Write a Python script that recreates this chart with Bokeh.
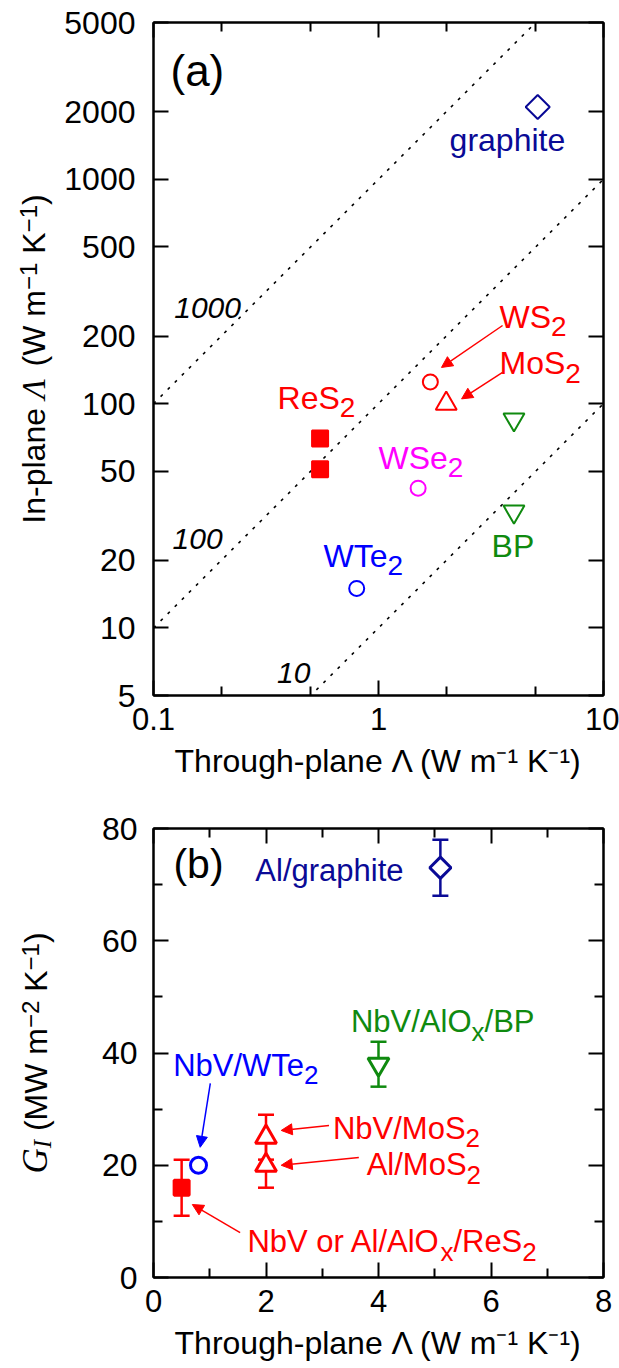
import math
from bokeh.plotting import figure
from bokeh.models import (LogAxis, LinearAxis, FixedTicker, Label, Arrow, NormalHead,
                          TeeHead, Whisker, ColumnDataSource, CustomJSTickFormatter, Range1d)
from bokeh.layouts import column, row
from bokeh.embed import file_html
from bokeh.resources import INLINE

SANS = "Liberation Sans"
SERIF = "Liberation Serif"
RED = "#ff0000"
NAVY = "#0a0a96"
GREEN = "#0f8a0f"
BLUE = "#0000ff"
MAGENTA = "#ff00ff"

# ---------------- panel (a) data ----------------
a_names = ["graphite", "WS2", "MoS2", "BP", "BP", "ReS2", "ReS2", "WSe2", "WTe2"]
a_through = [5.1, 1.7, 2.0, 4.0, 4.0, 0.55, 0.55, 1.5, 0.8]
a_inplane = [2100, 125, 100, 85, 33, 70, 51, 42, 15]
a_markers = ["square", "circle", "triangle", "inverted_triangle", "inverted_triangle",
             "square", "square", "circle", "circle"]
a_colors = [NAVY, RED, RED, GREEN, GREEN, RED, RED, MAGENTA, BLUE]
a_filled = [False, False, False, False, False, True, True, False, False]
a_angles = [math.pi / 4, 0, 0, 0, 0, 0, 0, 0, 0]
a_sizes = [17, 15, 21, 21, 21, 16, 16, 15, 15]

ratio_values = [10, 100, 1000]
ratio_label_text = ["10", "100", "1000"]
ratio_label_x = [0.42, 0.157, 0.174]
ratio_label_y = [6.3, 25, 268]

a_xticks = [0.1, 1, 10]
a_xminor = [0.2, 0.5, 2, 5]
a_yticks = [5, 10, 20, 50, 100, 200, 500, 1000, 2000, 5000]

# ---------------- panel (b) data ----------------
b_names = ["Al/graphite", "NbV/AlOx/BP", "NbV/WTe2", "NbV or Al/AlOx/ReS2", "NbV/MoS2", "Al/MoS2"]
b_through = [5.1, 4.0, 0.8, 0.5, 2.0, 2.0]
b_G = [73, 38, 20, 16, 25, 20]
b_err = [5, 4, 0, 5, 4, 4]
b_markers = ["square", "inverted_triangle", "circle", "square", "triangle", "triangle"]
b_colors = [NAVY, GREEN, BLUE, RED, RED, RED]
b_filled = [False, False, False, True, False, False]
b_angles = [math.pi / 4, 0, 0, 0, 0, 0]
b_sizes = [15, 21, 16, 15, 21, 21]

b_xticks = [0, 2, 4, 6, 8]
b_xminor = [1, 3, 5, 7]
b_yticks = [0, 20, 40, 60, 80]
b_yminor = [10, 30, 50, 70]

X_LABEL = "Through-plane Λ (W m⁻¹ K⁻¹)"

# Arial / Liberation Sans advance widths (per 1000 em)
W = {' ': 278, '(': 333, ')': 333, '/': 278, '-': 333, 'A': 667, 'B': 667, 'G': 778, 'I': 278,
     'K': 667, 'M': 833, 'N': 722, 'O': 778, 'P': 667, 'R': 722, 'S': 667, 'T': 611, 'V': 667,
     'W': 944, 'a': 556, 'b': 556, 'e': 556, 'g': 556, 'h': 556, 'i': 222, 'l': 222, 'o': 556,
     'p': 556, 'r': 333, 't': 278, 'x': 500, 'm': 833, 'n': 556, 'u': 556, '\u2212': 584,
     '1': 556, '2': 556}
KERN = {"Te": -111}
SERIF_W = {"Λ": 722, "G": 722, "I": 333}


def tw(s, size, font=SANS):
    if font == SERIF:
        return sum(SERIF_W.get(c, 600) for c in s) * size / 1000.0
    tot = sum(W.get(c, 556) for c in s)
    for i in range(len(s) - 1):
        tot += KERN.get(s[i:i + 2], 0)
    return tot * size / 1000.0


def rich(p, x, y, parts, color, size, sub_size, drop):
    off = 0.0
    for txt, sub in parts:
        fs = sub_size if sub else size
        p.add_layout(Label(x=x, y=y, x_offset=off, y_offset=(-drop if sub else 0), text=txt,
                           text_font=SANS, text_font_size=f"{fs}px", text_color=color,
                           text_baseline="middle", text_align="left"))
        off += tw(txt, fs)


def compose_vertical(p, cx, cy, parts):
    """rotated (reading upwards) multi-font label centred on (cx, cy)"""
    widths = [tw(t, s, f) for t, f, st, s, sh in parts]
    off = -sum(widths) / 2.0
    for (t, f, st, s, sh), w in zip(parts, widths):
        lead = len(t) - len(t.lstrip(" "))
        lab = Label(x=cx, y=cy, x_offset=-sh, y_offset=off + tw(t[:lead], s, f),
                    angle=math.pi / 2, text=t.strip(" "))
        lab.text_font = f
        lab.text_font_style = st
        lab.text_font_size = f"{s}px"
        lab.text_color = "black"
        lab.text_align = "left"
        lab.text_baseline = "middle"
        p.add_layout(lab)
        off += w


def style_axis(ax, labels=True):
    ax.axis_line_width = 2
    ax.axis_line_color = "black"
    ax.major_tick_line_width = 2
    ax.minor_tick_line_width = 2
    ax.major_tick_in = 15
    ax.major_tick_out = 0
    ax.minor_tick_in = 9
    ax.minor_tick_out = 0
    ax.major_label_text_font = SANS
    ax.major_label_text_font_size = "31px"
    ax.major_label_text_color = "black"
    ax.axis_label_text_font = SANS
    ax.axis_label_text_font_size = "32px"
    ax.axis_label_text_font_style = "normal"
    ax.axis_label_text_color = "black"
    if not labels:
        ax.formatter = CustomJSTickFormatter(code="return ''")
        ax.major_label_text_font_size = "2px"
        ax.major_label_standoff = 0
        ax.axis_label = None


fmt = "return String(tick)"
SUP = 24
ya_label_parts = [("In-plane ", SANS, "normal", 32, 0), ("Λ", SERIF, "italic", 33, 0),
                  (" (W m", SANS, "normal", 32, 0), ("\u22121", SANS, "normal", SUP, 5),
                  (" K", SANS, "normal", 32, 0), ("\u22121", SANS, "normal", SUP, 5),
                  (")", SANS, "normal", 32, 0)]
yb_label_parts = [("G", SERIF, "italic", 35, 0), ("I", SERIF, "italic", 25, -7),
                  (" (MW m", SANS, "normal", 32, 0), ("\u22122", SANS, "normal", SUP, 5),
                  (" K", SANS, "normal", 32, 0), ("\u22121", SANS, "normal", SUP, 5),
                  (")", SANS, "normal", 32, 0)]

# ================= panel (a) =================
pa = figure(width=559, height=790, x_axis_type="log", y_axis_type="log",
            x_range=Range1d(0.1, 10), y_range=Range1d(5, 5000),
            toolbar_location=None, output_backend="svg",
            min_border_left=92, min_border_right=16, min_border_top=22, min_border_bottom=95)
pa.xgrid.visible = False
pa.ygrid.visible = False
pa.outline_line_color = "black"
pa.outline_line_width = 2

pa.xaxis.ticker = FixedTicker(ticks=a_xticks, minor_ticks=a_xminor)
pa.yaxis.ticker = FixedTicker(ticks=a_yticks, minor_ticks=[])
for ax in pa.xaxis + pa.yaxis:
    style_axis(ax)
pa.xaxis.formatter = CustomJSTickFormatter(code=fmt)
pa.yaxis.formatter = CustomJSTickFormatter(code=fmt)
pa.yaxis.major_label_text_font_size = "32px"
pa.xaxis.major_label_standoff = 12
pa.yaxis.major_label_standoff = 18
pa.xaxis.axis_label = X_LABEL
pa.xaxis.axis_label_standoff = 10

top_a = LogAxis(ticker=FixedTicker(ticks=a_xticks, minor_ticks=a_xminor))
right_a = LogAxis(ticker=FixedTicker(ticks=a_yticks, minor_ticks=[]))
style_axis(top_a, labels=False)
style_axis(right_a, labels=False)
pa.add_layout(top_a, "above")
pa.add_layout(right_a, "right")

for r in ratio_values:
    xs = [0.1, 10]
    pa.line(xs, [r * v for v in xs], line_color="black", line_width=1.6, line_dash="3 7")
for t, x, y in zip(ratio_label_text, ratio_label_x, ratio_label_y):
    pa.add_layout(Label(x=x, y=y, text=t, text_font=SANS, text_font_style="italic",
                        text_font_size="30px", text_align="center", text_baseline="middle",
                        text_color="black"))

src_a = ColumnDataSource(dict(x=a_through, y=a_inplane, marker=a_markers, color=a_colors,
                              fill=[c if f else "white" for c, f in zip(a_colors, a_filled)],
                              angle=a_angles, size=a_sizes))
pa.scatter("x", "y", source=src_a, marker="marker", size="size", angle="angle",
           line_color="color", fill_color="fill", line_width=2)

pa.add_layout(Label(x=0.119, y=3055, text="(a)", text_font=SANS, text_font_size="44px",
                    text_baseline="middle", text_color="black"))
rich(pa, 2.07, 1503, [("graphite", False)], NAVY, 32, 28, 10)
rich(pa, 3.45, 244, [("WS", False), ("2", True)], RED, 32, 28, 10)
rich(pa, 3.45, 151, [("MoS", False), ("2", True)], RED, 32, 28, 10)
rich(pa, 0.356, 106, [("ReS", False), ("2", True)], RED, 32, 28, 10)
rich(pa, 1.0, 57.5, [("WSe", False), ("2", True)], MAGENTA, 32, 28, 10)
rich(pa, 0.57, 21, [("WTe", False), ("2", True)], BLUE, 32, 28, 10)
rich(pa, 3.18, 23.3, [("BP", False)], GREEN, 32, 28, 10)

for (xs, ys, xe, ye) in [(3.56, 223, 1.905, 145), (3.56, 138, 2.34, 105)]:
    pa.add_layout(Arrow(x_start=xs, y_start=ys, x_end=xe, y_end=ye, line_color=RED, line_width=1.5,
                        end=NormalHead(size=11, fill_color=RED, line_color=RED, line_width=1)))

# ================= panel (b) =================
pb = figure(width=559, height=578, x_range=Range1d(0, 8), y_range=Range1d(0, 80),
            toolbar_location=None, output_backend="svg",
            min_border_left=93, min_border_right=15, min_border_top=38, min_border_bottom=91)
pb.xgrid.visible = False
pb.ygrid.visible = False
pb.outline_line_color = "black"
pb.outline_line_width = 2
pb.xaxis.ticker = FixedTicker(ticks=b_xticks, minor_ticks=b_xminor)
pb.yaxis.ticker = FixedTicker(ticks=b_yticks, minor_ticks=b_yminor)
for ax in pb.xaxis + pb.yaxis:
    style_axis(ax)
pb.xaxis.formatter = CustomJSTickFormatter(code=fmt)
pb.yaxis.formatter = CustomJSTickFormatter(code=fmt)
pb.yaxis.major_label_text_font_size = "32px"
pb.xaxis.major_label_standoff = 12
pb.yaxis.major_label_standoff = 16
pb.xaxis.axis_label = X_LABEL
pb.xaxis.axis_label_standoff = 10
top_b = LinearAxis(ticker=FixedTicker(ticks=b_xticks, minor_ticks=b_xminor))
right_b = LinearAxis(ticker=FixedTicker(ticks=b_yticks, minor_ticks=b_yminor))
style_axis(top_b, labels=False)
style_axis(right_b, labels=False)
pb.add_layout(top_b, "above")
pb.add_layout(right_b, "right")

err_src = ColumnDataSource(dict(x=[x for x, e in zip(b_through, b_err) if e > 0],
                                upper=[g + e for g, e in zip(b_G, b_err) if e > 0],
                                lower=[g - e for g, e in zip(b_G, b_err) if e > 0],
                                color=[c for c, e in zip(b_colors, b_err) if e > 0]))
wh = Whisker(source=err_src, base="x", upper="upper", lower="lower", dimension="height",
             line_color="color", line_width=2.5, level="underlay",
             upper_head=TeeHead(size=16, line_color="color", line_width=2.5),
             lower_head=TeeHead(size=16, line_color="color", line_width=2.5))
pb.add_layout(wh)
src_b = ColumnDataSource(dict(x=b_through, y=b_G, marker=b_markers, color=b_colors,
                              fill=[c if f else "white" for c, f in zip(b_colors, b_filled)],
                              angle=b_angles, size=b_sizes))
pb.scatter("x", "y", source=src_b, marker="marker", size="size", angle="angle",
           line_color="color", fill_color="fill", line_width=3)

pb.add_layout(Label(x=0.355, y=73.7, text="(b)", text_font=SANS, text_font_size="41px",
                    text_baseline="middle", text_color="black"))
rich(pb, 1.81, 72.5, [("Al/graphite", False)], NAVY, 31, 26, 10)
rich(pb, 3.51, 45.6, [("NbV/AlO", False), ("x", True), ("/BP", False)], GREEN, 31, 26, 10)
rich(pb, 0.35, 37.8, [("NbV/WTe", False), ("2", True)], BLUE, 31, 26, 10)
rich(pb, 3.19, 26.6, [("NbV/MoS", False), ("2", True)], RED, 31, 26, 10)
rich(pb, 3.79, 20.1, [("Al/MoS", False), ("2", True)], RED, 31, 26, 10)
rich(pb, 1.67, 6.4, [("NbV or Al/AlO", False), ("x", True), ("/ReS", False), ("2", True)], RED, 31, 26, 10)

for (xs, ys, xe, ye, c) in [(1.01, 34.6, 0.83, 23.2, BLUE), (3.12, 27.1, 2.27, 26.2, RED),
                            (3.65, 21.4, 2.27, 20.0, RED), (1.54, 8.0, 0.69, 13.0, RED)]:
    pb.add_layout(Arrow(x_start=xs, y_start=ys, x_end=xe, y_end=ye, line_color=c, line_width=1.5,
                        end=NormalHead(size=11, fill_color=c, line_color=c, line_width=1)))

# y-label strip spanning the full height (left of both panels)
ylab = figure(width=60, height=1368, x_range=Range1d(0, 60), y_range=Range1d(0, 1368),
              toolbar_location=None, output_backend="svg", min_border=0, title=None,
              x_axis_location=None, y_axis_location=None)
ylab.outline_line_color = None
ylab.grid.visible = False
compose_vertical(ylab, 33, 1368 - 358.5, ya_label_parts)
compose_vertical(ylab, 35, 1368 - 1052.5, yb_label_parts)

layout = row(ylab, column(pa, pb, spacing=0), spacing=0)
open("out.html", "w").write(file_html(layout, INLINE))
